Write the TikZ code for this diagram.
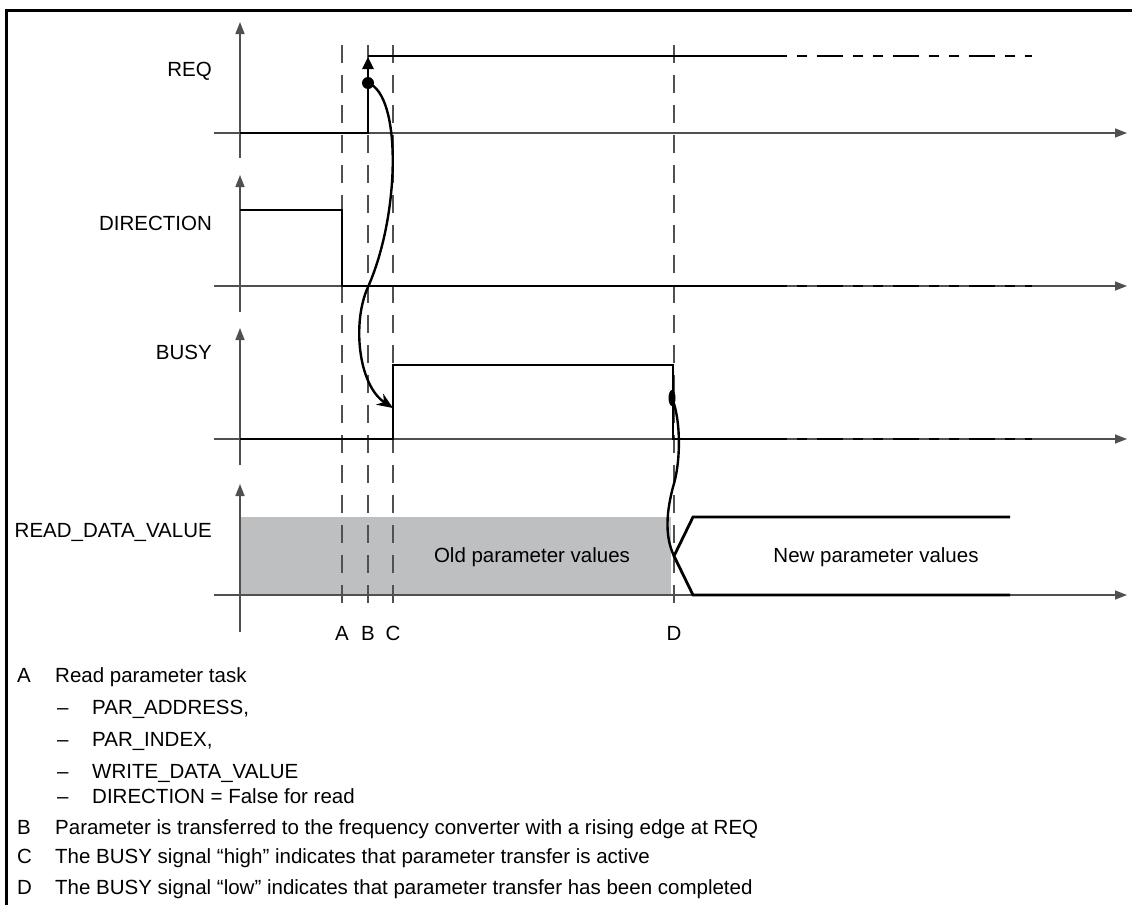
\documentclass[tikz,border=0pt]{standalone}
\usepackage{fontspec}
\setmainfont{Liberation Sans}
\usetikzlibrary{arrows.meta}
\definecolor{greyfill}{RGB}{190,191,193}
\definecolor{axisgray}{RGB}{80,80,80}
\begin{document}
\begin{tikzpicture}[x=1pt,y=-1pt,
  sig/.style={line width=2.8pt, line join=miter, black},
  axisline/.style={line width=1.5pt, color=axisgray, -{Triangle[length=12pt,width=9pt]}},
  guide/.style={line width=1.1pt, color=axisgray, dash pattern=on 18pt off 12pt},
  ext/.style={line width=2.8pt, black, dash pattern=on 10pt off 10pt on 26pt off 10pt on 10pt off 10pt},
  lbl/.style={font=\fontsize{20.5}{24}\selectfont, inner sep=0pt},
  curve/.style={line width=2.4pt, black},
]
\useasboundingbox (0,0) rectangle (1132,905);
% frame
\draw[line width=3pt] (6,905) -- (6,10) -- (1132,10);

% gray region
\fill[greyfill] (240,517) rectangle (671,595);

% guide lines
\draw[guide] (342,45) -- (342,612);
\draw[guide] (368,45) -- (368,612);
\draw[guide] (393,45) -- (393,612);
\draw[guide] (674,45) -- (674,603);

% axes
\foreach \b/\bot in {133/158, 286/312, 439/465, 595/632}{
  \draw[axisline] (240,\bot) -- (240,\b-111);
  \draw[axisline] (214,\b) -- (1127,\b);
}

% signal names
\node[lbl, anchor=base east] (nreq) at (212,76.5) {REQ};
\node[lbl, anchor=base east] (ndir) at (212,230.5) {DIRECTION};
\node[lbl, anchor=base east] (nbusy) at (212,359.5) {BUSY};
\node[lbl, anchor=base east] (nrdv) at (212,537.5) {READ\_DATA\_VALUE};

% REQ
\coordinate (req0) at (240,133);
\coordinate (reqB) at (368,133);
\coordinate (reqtop) at (368,57);
\coordinate (reqhi) at (368,56);
\coordinate (reqend) at (787,56);
\draw[sig] (req0) -- (reqB) -- (368,72);
\draw[line width=2.8pt, -{Triangle[length=12pt,width=11pt]}] (368,74) -- (reqtop);
\draw[sig] (reqhi) -- (reqend);
\draw[ext] (797,56) -- (1032,56);

% DIRECTION
\coordinate (dir0) at (240,210);
\coordinate (dirA) at (342,210);
\coordinate (dirAl) at (342,286);
\coordinate (dirend) at (787,286);
\draw[sig] (dir0) -- (dirA) -- (dirAl) -- (dirend);
\draw[ext] (797,286) -- (1032,286);

% BUSY
\coordinate (busy0) at (240,439);
\coordinate (busyC) at (393,439);
\coordinate (busyCh) at (393,365);
\coordinate (busyDh) at (673,365);
\coordinate (busyD) at (673,439);
\coordinate (busyend) at (787,439);
\draw[sig] (busy0) -- (busyC) -- (busyCh) -- (busyDh) -- (busyD) -- (busyend);
\draw[ext] (797,439) -- (1032,439);

% READ_DATA_VALUE
\coordinate (cross) at (674,556);
\coordinate (nvt) at (693,517);
\coordinate (nvb) at (693,595);
\coordinate (nvte) at (1010,517);
\coordinate (nvbe) at (1010,595);
\draw[sig] (nvte) -- (nvt) -- (cross) -- (nvb) -- (nvbe);
\node[lbl] (old) at (532,557) {Old parameter values};
\node[lbl] (new) at (876,557) {New parameter values};

% causal curves
\coordinate (reqdot) at (368,83);
\coordinate (busyarr) at (393,408);
\draw[curve, -{Stealth[length=16pt,width=13pt]}] (reqdot) .. controls (402,95) and (400,215) .. (368,287) .. controls (352,322) and (358,385) .. (busyarr);
\fill (reqdot) circle (6);
\coordinate (busydot) at (672,398);
\draw[curve] (busydot) .. controls (681,420) and (681,462) .. (673,487) .. controls (667,510) and (664,535) .. (cross);
\fill (busydot) ellipse (3.5 and 8);

% time labels
\node[lbl] (la) at (342,633) {A};
\node[lbl] (lb) at (368,633) {B};
\node[lbl] (lc) at (393,633) {C};
\node[lbl] (ld) at (674,633) {D};

% legend
\node[lbl, anchor=base west] (ka) at (17,682.5) {A};
\node[lbl, anchor=base west] (ta) at (55,682.5) {Read parameter task};
\node[lbl, anchor=base west] (d1) at (57,714.5) {–};
\node[lbl, anchor=base west] (t1) at (92,714.5) {PAR\_ADDRESS,};
\node[lbl, anchor=base west] (d2) at (57,746.5) {–};
\node[lbl, anchor=base west] (t2) at (92,746.5) {PAR\_INDEX,};
\node[lbl, anchor=base west] (d3) at (57,778.5) {–};
\node[lbl, anchor=base west] (t3) at (92,778.5) {WRITE\_DATA\_VALUE};
\node[lbl, anchor=base west] (d4) at (57,803.5) {–};
\node[lbl, anchor=base west] (t4) at (92,803.5) {DIRECTION = False for read};
\node[lbl, anchor=base west] (kb) at (17,834) {B};
\node[lbl, anchor=base west] (tb) at (55,834) {Parameter is transferred to the frequency converter with a rising edge at REQ};
\node[lbl, anchor=base west] (kc) at (17,863) {C};
\node[lbl, anchor=base west] (tc) at (55,863) {The BUSY signal “high” indicates that parameter transfer is active};
\node[lbl, anchor=base west] (kd) at (17,894) {D};
\node[lbl, anchor=base west] (td) at (55,894) {The BUSY signal “low” indicates that parameter transfer has been completed};
\end{tikzpicture}
\end{document}
